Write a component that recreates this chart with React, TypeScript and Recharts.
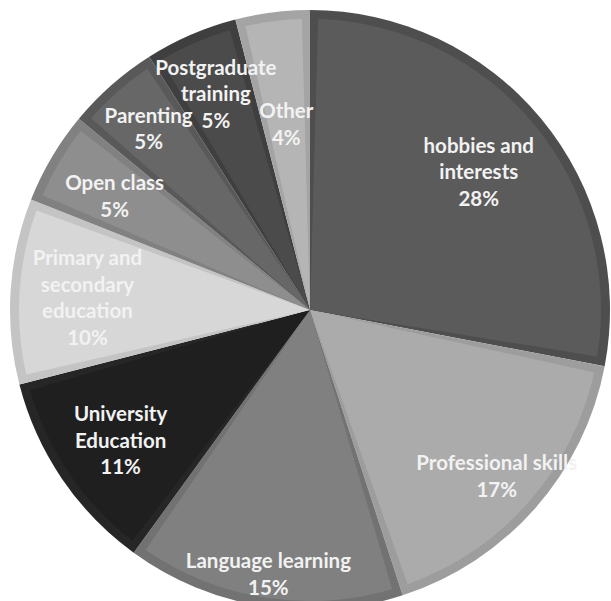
import { PieChart, Pie, Cell, Sector } from "recharts";

const categories = [
  "hobbies and\ninterests",
  "Professional skills",
  "Language learning",
  "University\nEducation",
  "Primary and\nsecondary\neducation",
  "Open class",
  "Parenting",
  "Postgraduate\ntraining",
  "Other",
];
const shares = [28, 17, 15, 11, 10, 5, 5, 5, 4];

const fills = ["#5b5b5b", "#ababab", "#808080", "#1f1f1f", "#d7d7d7", "#8e8e8e", "#676767", "#4b4b4b", "#b5b5b5"];
const borders = ["#4e4e4e", "#9d9d9d", "#727272", "#262626", "#c4c4c4", "#818181", "#595959", "#3f3f3f", "#a4a4a4"];
// how far from the centre each label sits (px)
const labelRadii = [219, 249, 266, 229, 223, 227, 244, 237, 189];

const data = categories.map((name, i) => ({ name, value: shares[i] }));

const RADIAN = Math.PI / 180;
const BEVEL = 9;
const INSET_DEG = 1.6;

const renderInset = (props: any) => {
  const { cx, cy, outerRadius, startAngle, endAngle, index } = props;
  const s = endAngle < startAngle ? -1 : 1;
  return (
    <Sector
      cx={cx}
      cy={cy}
      innerRadius={0}
      outerRadius={outerRadius - BEVEL}
      startAngle={startAngle + s * INSET_DEG}
      endAngle={endAngle - s * INSET_DEG}
      fill={fills[index]}
      stroke="none"
    />
  );
};

const renderText = (props: any) => {
  const { cx, cy, midAngle, index, value } = props;
  const r = labelRadii[index];
  const x = cx + r * Math.cos(-midAngle * RADIAN);
  const y = cy + r * Math.sin(-midAngle * RADIAN);
  const lines = [...categories[index].split("\n"), `${value}%`];
  const lh = 26.5;
  const top = y - ((lines.length - 1) * lh) / 2 + 1;
  return (
    <text
      x={x}
      y={top}
      textAnchor="middle"
      dominantBaseline="central"
      fill="#f2f2f2"
      fontFamily="Lato, sans-serif"
      fontWeight={700}
      fontSize={20.5}
    >
      {lines.map((l, k) => (
        <tspan key={k} x={x} y={top + k * lh}>
          {l}
        </tspan>
      ))}
    </text>
  );
};

export default function App() {
  return (
    <div style={{ position: "absolute", left: 0, top: 0, width: 611, height: 601, overflow: "hidden", background: "#fff" }}>
      <PieChart width={611} height={601} margin={{ top: 0, right: 0, bottom: 0, left: 0 }}>
        <Pie
          data={data}
          dataKey="value"
          cx={310}
          cy={310}
          outerRadius={300}
          startAngle={90}
          endAngle={-270}
          stroke="none"
          label={renderInset}
          labelLine={false}
          isAnimationActive={false}
        >
          {data.map((d, i) => (
            <Cell key={d.name} fill={borders[i]} />
          ))}
        </Pie>
        <Pie
          data={data}
          dataKey="value"
          cx={310}
          cy={310}
          outerRadius={300}
          startAngle={90}
          endAngle={-270}
          fill="transparent"
          stroke="none"
          label={renderText}
          labelLine={false}
          isAnimationActive={false}
        />
      </PieChart>
    </div>
  );
}
